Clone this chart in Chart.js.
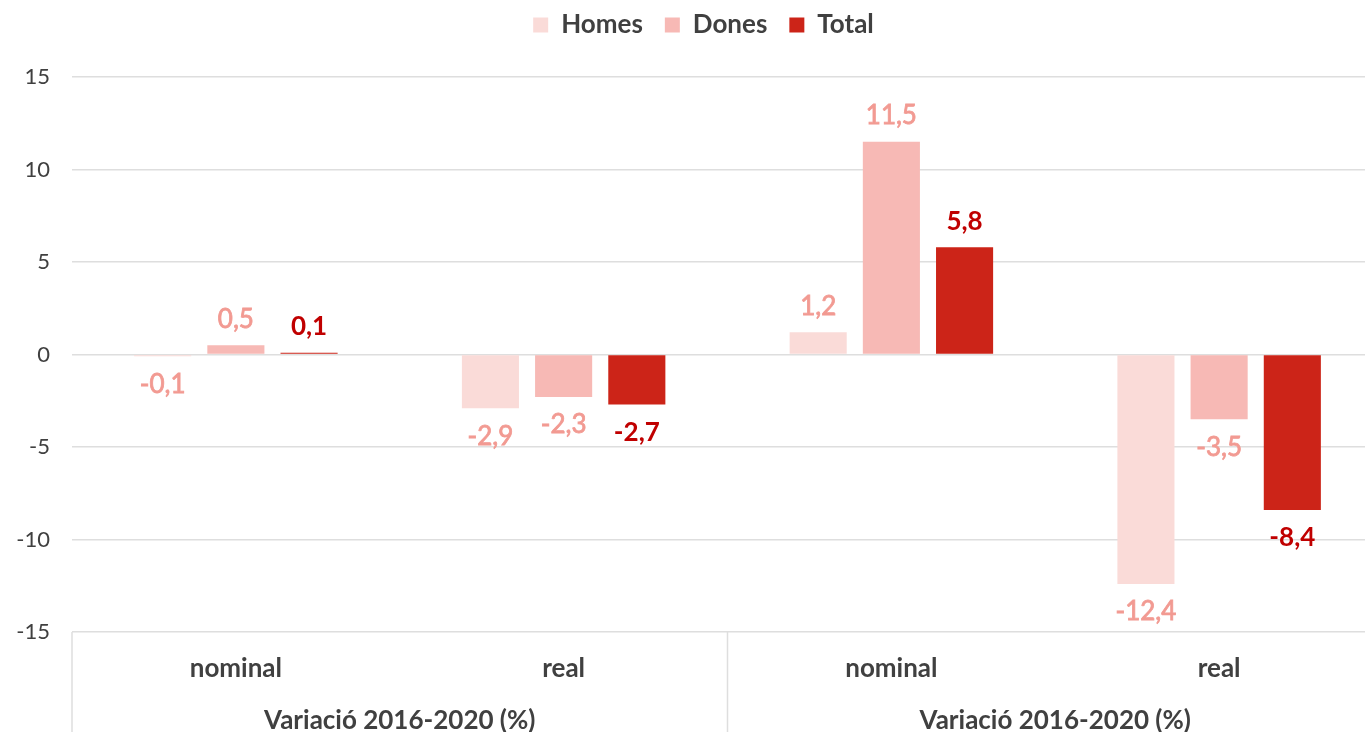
<!DOCTYPE html>
<html>
<head>
<meta charset="utf-8">
<script src="https://cdn.jsdelivr.net/npm/chart.js@4/dist/chart.umd.min.js"></script>
<style>
  html, body { margin: 0; padding: 0; background: #fff; overflow: hidden; }
  #wrap { width: 1383px; height: 732px; }
</style>
</head>
<body>
<div id="wrap"><canvas id="chart" width="1383" height="732"></canvas></div>
<script>
// Chart data
const categories = ['nominal', 'real', 'nominal', 'real'];
const groups = ['Variació 2016-2020 (%)', 'Variació 2016-2020 (%)'];
const homes = [-0.1, -2.9, 1.2, -12.4];
const dones = [0.5, -2.3, 11.5, -3.5];
const total = [0.1, -2.7, 5.8, -8.4];
const yTicks = [-15, -10, -5, 0, 5, 10, 15];

const textGrey = '#404040';
const gridGrey = '#dedede';

// Draws the value above / below each bar
const valueLabels = {
  id: 'valueLabels',
  afterDatasetsDraw(chart) {
    const ctx = chart.ctx;
    ctx.save();
    ctx.textAlign = 'center';
    ctx.textBaseline = 'middle';
    chart.data.datasets.forEach((ds, i) => {
      const meta = chart.getDatasetMeta(i);
      meta.data.forEach((bar, j) => {
        const v = ds.data[j];
        const txt = v.toFixed(1).replace('.', ',');
        const y = v >= 0 ? bar.y - 26 : bar.y + 28;
        ctx.fillStyle = ds.labelColor;
        ctx.strokeStyle = ds.labelColor;
        ctx.lineWidth = ds.labelStroke;
        ctx.font = ds.labelFont;
        ctx.fillText(txt, bar.x, y);
        // slightly heavier than the regular weight
        if (ds.labelStroke > 0) ctx.strokeText(txt, bar.x, y);
      });
    });
    ctx.restore();
  }
};

// Extra room under the legend, and nudge it a little to the right
const legendSpace = {
  id: 'legendSpace',
  beforeInit(chart) {
    const legend = chart.legend;
    if (!legend) return;
    const fit = legend.fit.bind(legend);
    legend.fit = function () {
      fit();
      this.height += 29;
    };
  },
  afterLayout(chart) {
    if (!chart.legend) return;
    chart.legend.left += 12;
    chart.legend.right += 12;
  }
};

// Vertical separators between the two label groups under the plot
const groupSeparators = {
  id: 'groupSeparators',
  afterDraw(chart) {
    const s = chart.scales.x2;
    const ctx = chart.ctx;
    const mid = (s.getPixelForTick(0) + s.getPixelForTick(1)) / 2;
    ctx.save();
    ctx.strokeStyle = gridGrey;
    ctx.lineWidth = 1.5;
    [s.left, mid, s.right].forEach(x => {
      ctx.beginPath();
      ctx.moveTo(x, chart.chartArea.bottom);
      ctx.lineTo(x, chart.height);
      ctx.stroke();
    });
    ctx.restore();
  }
};

const ctx = document.getElementById('chart').getContext('2d');
new Chart(ctx, {
  type: 'bar',
  data: {
    labels: categories,
    datasets: [
      {
        label: 'Homes',
        data: homes,
        backgroundColor: '#fadbd8',
        labelColor: '#f29a92',
        labelFont: '26px Lato',
        labelStroke: 0.8
      },
      {
        label: 'Dones',
        data: dones,
        backgroundColor: '#f7b9b5',
        labelColor: '#f29a92',
        labelFont: '26px Lato',
        labelStroke: 0.8
      },
      {
        label: 'Total',
        data: total,
        backgroundColor: '#cc2418',
        labelColor: '#c00000',
        labelFont: 'bold 26px Lato',
        labelStroke: 0
      }
    ]
  },
  options: {
    responsive: false,
    animation: false,
    layout: { padding: { top: -10, right: 0, left: 0, bottom: 0 } },
    datasets: {
      bar: { categoryPercentage: 0.67, barPercentage: 0.78 }
    },
    plugins: {
      legend: {
        position: 'top',
        labels: {
          boxWidth: 15,
          boxHeight: 15,
          padding: 22,
          color: textGrey,
          font: { family: 'Lato', size: 26, weight: 'bold' }
        }
      },
      tooltip: { enabled: false }
    },
    scales: {
      y: {
        min: -15,
        max: 15,
        afterBuildTicks: scale => { scale.ticks = yTicks.map(v => ({ value: v })); },
        afterFit: scale => { scale.width = 72; },
        border: { display: false },
        grid: { color: gridGrey, lineWidth: 1.5, drawTicks: false },
        ticks: {
          padding: 22,
          color: textGrey,
          font: { family: 'Lato', size: 22 }
        }
      },
      x: {
        position: 'bottom',
        afterFit: scale => { scale.height = 60; },
        border: { display: false },
        grid: { display: false },
        ticks: {
          padding: 13,
          maxRotation: 0,
          color: textGrey,
          font: { family: 'Lato', size: 26, weight: 'bold' }
        }
      },
      x2: {
        type: 'category',
        position: 'bottom',
        labels: groups,
        offset: true,
        afterFit: scale => { scale.height = 40; },
        border: { display: false },
        grid: { display: false },
        ticks: {
          padding: 5,
          maxRotation: 0,
          color: textGrey,
          font: { family: 'Lato', size: 26, weight: 'bold' }
        }
      }
    }
  },
  plugins: [legendSpace, valueLabels, groupSeparators]
});
</script>
</body>
</html>
